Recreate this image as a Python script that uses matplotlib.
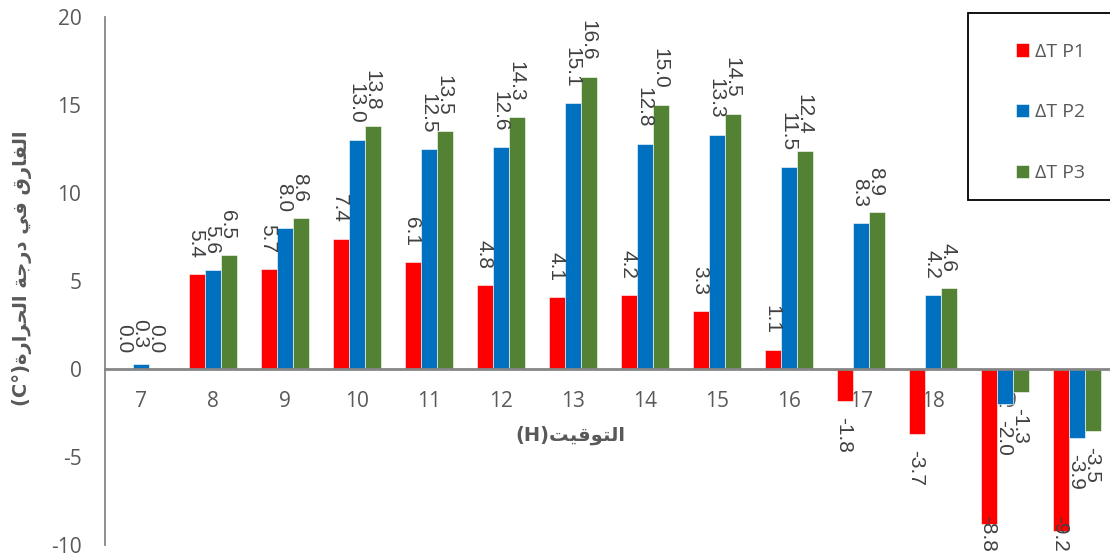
import matplotlib
matplotlib.use("Agg")
import matplotlib.pyplot as plt
from matplotlib.patches import Rectangle
import numpy as np

plt.rcParams["axes.unicode_minus"] = False

# Hours of the day (category axis)
hours = ["7", "8", "9", "10", "11", "12", "13", "14", "15", "16", "17", "18", "19", "20"]

# Temperature difference per position (°C)
dt_p1 = [0.0, 5.4, 5.7, 7.4, 6.1, 4.8, 4.1, 4.2, 3.3, 1.1, -1.8, -3.7, -8.8, -9.2]
dt_p2 = [0.3, 5.6, 8.0, 13.0, 12.5, 12.6, 15.1, 12.8, 13.3, 11.5, 8.3, 4.2, -2.0, -3.9]
dt_p3 = [0.0, 6.5, 8.6, 13.8, 13.5, 14.3, 16.6, 15.0, 14.5, 12.4, 8.9, 4.6, -1.3, -3.5]

series_names = ["\u0394T P1", "\u0394T P2", "\u0394T P3"]
series_colors = ["#FF0000", "#0070C0", "#548235"]
y_ticks = [-10, -5, 0, 5, 10, 15, 20]

# Arabic titles in visual (left-to-right) order using presentation forms
ar_time = "\uFE96\uFEF4\uFED7\uFEEE\uFE98\uFEDF\uFE8D"           # التوقيت
x_title = "(H)" + ar_time
ar_alharara = "\uFE93\uFEAD\uFE8D\uFEAE\uFEA4\uFEDF\uFE8D"       # الحرارة
ar_daraja = "\uFE94\uFE9F\uFEAD\uFEA9"                           # درجة
ar_fi = "\uFEF2\uFED3"                                           # في
ar_alfareq = "\uFED5\uFEAD\uFE8E\uFED4\uFEDF\uFE8D"             # الفارق
y_title = "(C\u00b0)" + ar_alharara + " " + ar_daraja + " " + ar_fi + " " + ar_alfareq

W, H = 1110, 557
fig = plt.figure(figsize=(W / 100, H / 100), dpi=100)
ax = fig.add_axes([105 / W, 12 / H, 1008 / W, 528 / H])

x = np.arange(len(hours))
bw = 0.222
offsets = [-bw, 0.0, bw]
all_series = [dt_p1, dt_p2, dt_p3]

for vals, off, col, name in zip(all_series, offsets, series_colors, series_names):
    ax.bar(x + off, vals, width=bw, color=col, edgecolor="#ffffff", linewidth=0.4,
           label=name, zorder=2)

ax.set_xlim(-0.5, 13.5)
ax.set_ylim(-10, 20)
ax.set_yticks(y_ticks)
ax.set_xticks(x)
ax.set_xticklabels(hours)

for s in ["top", "right"]:
    ax.spines[s].set_visible(False)
ax.spines["left"].set_color("#868686")
ax.spines["left"].set_linewidth(1.3)
ax.spines["bottom"].set_position(("data", 0))
ax.spines["bottom"].set_color("#868686")
ax.spines["bottom"].set_linewidth(2.0)
ax.spines["bottom"].set_zorder(3)

ax.tick_params(axis="both", length=0, labelsize=15, labelcolor="#595959")
ax.tick_params(axis="y", pad=17)
ax.tick_params(axis="x", pad=16)
for lab in ax.get_xticklabels() + ax.get_yticklabels():
    lab.set_fontfamily("Open Sans")

# Value labels, rotated, outside the bar ends
labels = []
for vals, off in zip(all_series, offsets):
    for xi, v in zip(x, vals):
        if v >= 0:
            t = ax.annotate(f"{v:.1f}", xy=(xi + off - 0.02, v), xytext=(0, 11.5),
                            textcoords="offset points", rotation=270,
                            ha="center", va="bottom", fontsize=15,
                            color="#404040", family="Liberation Sans",
                            annotation_clip=False)
        else:
            t = ax.annotate(f"{v:.1f}", xy=(xi + off - 0.02, v), xytext=(0, -11.5),
                            textcoords="offset points", rotation=270,
                            ha="center", va="top", fontsize=15,
                            color="#404040", family="Liberation Sans",
                            annotation_clip=False)
        labels.append(t)

# Keep labels inside the figure
fig.canvas.draw()
renderer = fig.canvas.get_renderer()
for t in labels:
    bb = t.get_window_extent(renderer)
    if bb.y0 < 5:
        dx, dy = t.xyann
        t.xyann = (dx, dy + (5 - bb.y0) * 72 / 100)

# Axis titles
fig.text(570 / W, 1 - 435 / H, x_title, ha="center", va="center", fontsize=14,
         fontweight="bold", color="#595959", family=["DejaVu Sans"])
fig.text(22 / W, 1 - 268 / H, y_title, ha="center", va="center", rotation=90,
         fontsize=14, fontweight="bold", color="#595959", family=["DejaVu Sans"])

# Legend with a plain black frame
fig.patches.append(Rectangle((968 / W, 1 - 200 / H), 160 / W, 187 / H,
                             transform=fig.transFigure, facecolor="white",
                             edgecolor="black", linewidth=1.3, zorder=5))
leg = fig.legend(loc="upper left", bbox_to_anchor=(1006 / W, 1 - 33 / H),
                 frameon=False, handlelength=0.7, handleheight=0.7,
                 handletextpad=0.3, labelspacing=2.2, borderpad=0,
                 prop={"family": "Open Sans", "size": 14})
for txt in leg.get_texts():
    txt.set_color("#595959")
leg.set_zorder(6)

fig.savefig("out.png", dpi=100)
